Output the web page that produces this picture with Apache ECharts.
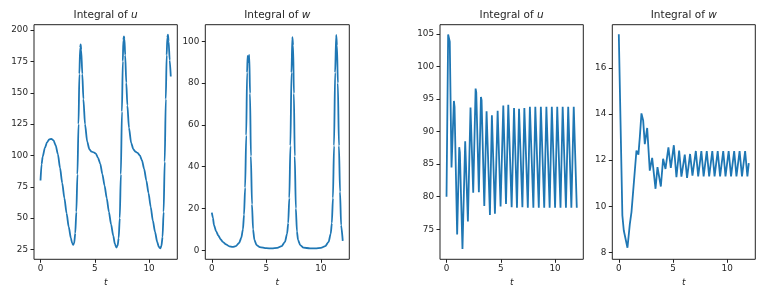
<!DOCTYPE html>
<html><head><meta charset="utf-8">
<script src="https://cdn.jsdelivr.net/npm/echarts@6/dist/echarts.min.js"></script>
<style>html,body{margin:0;padding:0;background:#fff}#c{width:773px;height:293px}</style>
</head><body><div id="c"></div>
<script>
// ---- data (t, value) ----
const panelVars = ['u', 'w', 'u', 'w'];
const xTickVals = [0, 5, 10];
const yTicks1 = [25, 50, 75, 100, 125, 150, 175, 200];
const yTicks2 = [0, 20, 40, 60, 80, 100];
const yTicks3 = [75, 80, 85, 90, 95, 100, 105];
const yTicks4 = [8, 10, 12, 14, 16];

const uInt1 = [[0,80],[0.1,93],[0.2,99],[0.4,106],[0.6,110.5],[0.8,112.8],[1.0,113.3],[1.2,112],[1.4,108],[1.6,101],[1.8,90],[2.0,78],[2.2,66],[2.4,54],[2.6,43],[2.8,34],[2.9,30.5],[3.0,28.7],[3.1,30],[3.2,38],[3.3,55],[3.4,85],[3.5,125],[3.58,165],[3.65,186],[3.7,188.5],[3.75,184],[3.85,165],[3.95,145],[4.1,125],[4.3,111],[4.5,105],[4.7,103],[4.9,102.5],[5.1,101.5],[5.3,98],[5.5,93.5],[5.7,85],[5.9,76],[6.1,66],[6.3,55],[6.5,45],[6.7,36],[6.85,29.5],[6.99,26.6],[7.1,28],[7.2,34],[7.3,50],[7.4,85],[7.5,135],[7.58,175],[7.63,192],[7.68,195],[7.73,193],[7.8,180],[7.9,158],[8.0,140],[8.15,122],[8.35,110],[8.55,105],[8.75,103],[8.95,102],[9.15,100],[9.35,96],[9.55,89],[9.75,80],[9.95,70],[10.15,59],[10.35,48],[10.55,39],[10.75,31],[10.9,27],[11.04,26],[11.14,28],[11.24,35],[11.34,55],[11.44,95],[11.54,145],[11.62,180],[11.68,194],[11.74,196.3],[11.8,191],[11.9,176],[12.0,163]];

const wInt1 = [[0,18],[0.1,15.5],[0.2,12],[0.4,9],[0.6,7],[0.8,5.3],[1.0,4],[1.3,2.8],[1.6,1.9],[1.9,1.6],[2.2,2],[2.5,3.5],[2.7,6],[2.85,10],[2.95,17],[3.05,30],[3.15,55],[3.23,85],[3.28,93],[3.35,90],[3.43,93.5],[3.5,75],[3.58,45],[3.68,22],[3.78,10],[3.9,5],[4.1,2.5],[4.4,1.5],[5.0,1.0],[5.5,0.9],[6.0,1.2],[6.4,2],[6.7,4],[6.9,8],[7.0,13],[7.1,25],[7.2,50],[7.3,85],[7.38,102],[7.45,98],[7.52,75],[7.6,45],[7.7,20],[7.8,9],[7.9,5],[8.1,2.5],[8.4,1.3],[9.0,0.9],[9.5,0.9],[10.0,1.2],[10.4,2],[10.7,4],[10.9,8],[11.0,13],[11.1,25],[11.2,50],[11.3,85],[11.4,103],[11.47,98],[11.55,80],[11.65,50],[11.75,28],[11.85,12],[12.0,4.5]];

const uInt2 = [[0,80],[0.15,104.9],[0.3,103.8],[0.46,84.5],[0.68,94.7],[0.74,93.8],[0.98,74.2],[1.17,87.6],[1.23,86.8],[1.47,72.0],[1.72,88.5],[1.78,88.2],[1.97,76.2],[2.21,93.7],[2.27,93.6],[2.46,80.6],[2.68,96.6],[2.74,96.0],[2.98,80.7],[3.17,95.3],[3.23,94.8],[3.48,78.6],[3.69,93.1],[3.75,92.8],[4.0,77.2],[4.18,92.5],[4.24,92.2],[4.46,77.4],[4.71,93.2],[4.77,93.0],[4.98,78.5],[5.23,94.0],[5.29,93.8],[5.48,78.9],[5.69,94.1],[5.75,93.9],[6.0,78.4],[6.22,93.6],[6.28,93.4],[6.49,78.3],[6.68,93.5],[6.74,93.3],[6.99,78.4],[7.17,93.6],[7.23,93.4],[7.49,78.3],[7.68,93.8],[7.74,93.6],[8.0,78.3],[8.18,93.8],[8.24,93.6],[8.5,78.3],[8.69,93.8],[8.75,93.6],[9.0,78.3],[9.2,93.8],[9.26,93.6],[9.5,78.3],[9.7,93.8],[9.76,93.6],[10.0,78.3],[10.2,93.8],[10.26,93.6],[10.5,78.3],[10.7,93.8],[10.76,93.6],[11.0,78.3],[11.21,93.8],[11.27,93.6],[11.5,78.3],[11.72,93.8],[11.78,93.6],[12.0,78.3]];

const wInt2 = [[0,17.47],[0.33,9.6],[0.46,8.95],[0.64,8.94],[0.8,8.2],[0.92,8.2],[1.02,9.24],[1.17,9.75],[1.32,9.82],[1.63,12.42],[1.69,12.45],[1.81,12.24],[1.94,13.0],[2.09,14.03],[2.25,13.72],[2.4,12.7],[2.62,13.4],[2.86,11.55],[3.08,12.1],[3.39,10.76],[3.57,11.7],[3.88,10.86],[4.09,12.06],[4.31,11.62],[4.58,12.56],[4.8,11.67],[5.08,12.65],[5.32,11.26],[5.57,12.42],[5.78,11.29],[6.09,12.24],[6.3,11.23],[6.58,12.27],[6.8,11.33],[7.11,12.4],[7.33,11.3],[7.62,12.4],[7.83,11.3],[8.12,12.4],[8.34,11.3],[8.63,12.4],[8.84,11.3],[9.13,12.4],[9.35,11.3],[9.64,12.4],[9.85,11.3],[10.14,12.4],[10.36,11.3],[10.65,12.4],[10.86,11.3],[11.15,12.4],[11.37,11.3],[11.66,12.4],[11.87,11.3],[12.0,11.87]];

// ---- layout ----
const seriesData = [uInt1, wInt1, uInt2, wInt2];
const yTickSets = [yTicks1, yTicks2, yTicks3, yTicks4];
const yRanges = [[17.2, 204.3], [-4.3, 107.9], [70.4, 106.4], [7.7, 17.88]];
const grids = [
  {left: 34, width: 143.3},
  {left: 205.3, width: 144},
  {left: 440, width: 143.3},
  {left: 612.3, width: 143}
];
const TOP = 24.7, HEIGHT = 234.6;
const FONT = 'DejaVu Sans';
const TXT = '#262626';
const smoothFlags = [0.25, 0.25, false, false];

const option = {
  animation: false,
  backgroundColor: '#fff',
  grid: grids.map(g => ({left: g.left, top: TOP, width: g.width, height: HEIGHT, show: true,
    borderColor: '#222', borderWidth: 1, backgroundColor: 'transparent', containLabel: false})),
  xAxis: grids.map((g, i) => ({
    type: 'value', gridIndex: i, min: -0.6, max: 12.6,
    name: 't', nameLocation: 'middle', nameGap: 17,
    nameTextStyle: {fontStyle: 'italic', fontSize: 9, color: TXT, fontFamily: FONT},
    axisLine: {show: false, onZero: false},
    axisTick: {show: true, length: 3.5, lineStyle: {color: '#222', width: 1}, customValues: xTickVals},
    axisLabel: {fontSize: 8.8, color: TXT, fontFamily: FONT, margin: 5, customValues: xTickVals},
    splitLine: {show: false}
  })),
  yAxis: grids.map((g, i) => ({
    type: 'value', gridIndex: i, min: yRanges[i][0], max: yRanges[i][1],
    axisLine: {show: false, onZero: false},
    axisTick: {show: true, length: 3.5, lineStyle: {color: '#222', width: 1}, customValues: yTickSets[i]},
    axisLabel: {fontSize: 8.8, color: TXT, fontFamily: FONT, margin: 6, customValues: yTickSets[i]},
    splitLine: {show: false}
  })),
  series: seriesData.map((d, i) => ({
    type: 'line', xAxisIndex: i, yAxisIndex: i, data: d,
    showSymbol: false, symbol: 'none', smooth: smoothFlags[i], smoothMonotone: 'x',
    lineStyle: {color: '#1f77b4', width: 1.8}, clip: true
  })),
  graphic: grids.map((g, i) => ({
    type: 'text', x: g.left + g.width / 2, y: 15,
    style: {
      text: '{a|Integral of }{b|' + panelVars[i] + '}',
      align: 'center', verticalAlign: 'middle',
      rich: {
        a: {fontSize: 10.5, fontFamily: FONT, fill: TXT},
        b: {fontSize: 10.5, fontFamily: FONT, fontStyle: 'italic', fill: TXT}
      }
    }
  }))
};
const chart = echarts.init(document.getElementById('c'), null, {renderer: 'canvas'});
chart.setOption(option);
</script>
</body></html>
